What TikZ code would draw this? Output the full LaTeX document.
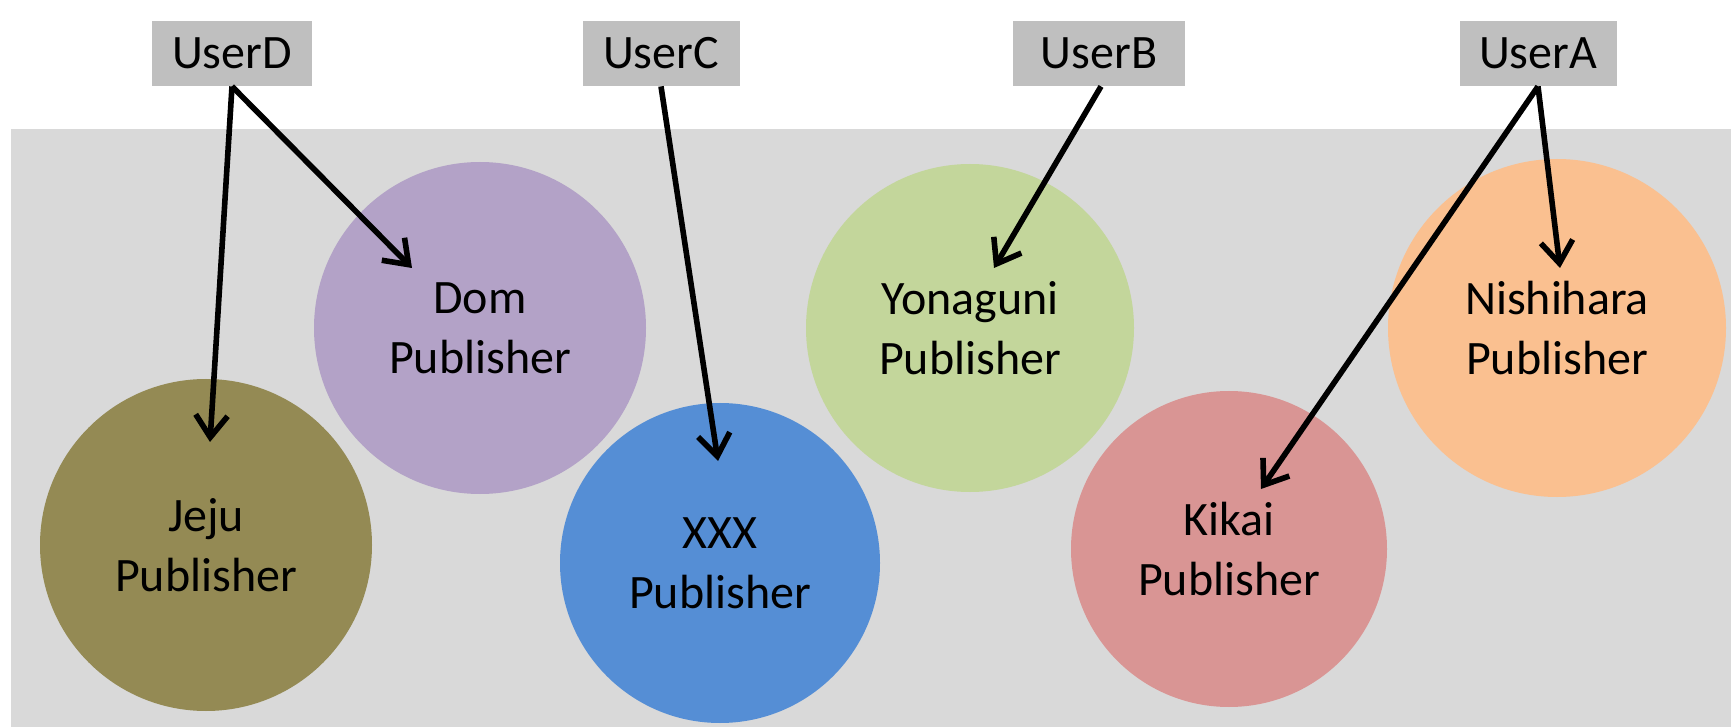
\documentclass[tikz,border=0pt]{standalone}
\usepackage{fontspec}
\setmainfont{Carlito}
\usepackage{xcolor}
\usetikzlibrary{arrows.meta}
\definecolor{bggray}{HTML}{D9D9D9}
\definecolor{usergray}{HTML}{BFBFBF}
\definecolor{domcol}{HTML}{B3A2C7}
\definecolor{jejucol}{HTML}{948A54}
\definecolor{xxxcol}{HTML}{558ED5}
\definecolor{yonacol}{HTML}{C3D69B}
\definecolor{kikaicol}{HTML}{D99594}
\definecolor{nishicol}{HTML}{FAC090}

\begin{document}
\begin{tikzpicture}[x=0.5pt,y=-0.5pt,
    every node/.style={font=\fontsize{24}{30}\selectfont, align=center},
    userbox/.style={fill=usergray, minimum height=32.5pt, minimum width=78.5pt, inner sep=0pt},
    pub/.style={circle, inner sep=0pt},
    userarrow/.style={draw=black, line width=2.8pt, -{Straight Barb[length=11pt,width=16pt]}}]
        \useasboundingbox (0,0) rectangle (1731,727);
        % Draw the gray background
        \fill[bggray] (11,129) rectangle (1731,727);
        % Draw the publishers
        \node[pub, fill=domcol, minimum size=166pt] (dom) at (480,328) {Dom\\Publisher};
        \node[pub, fill=jejucol, minimum size=166pt] (jeju) at (206,545) {Jeju\\Publisher};
        \node[pub, fill=xxxcol, minimum size=160pt] (xxx) at (720,563) {XXX\\Publisher};
        \node[pub, fill=yonacol, minimum size=164pt] (yona) at (970,328) {Yonaguni\\Publisher};
        \node[pub, fill=kikaicol, minimum size=158pt] (kikai) at (1229,549) {Kikai\\Publisher};
        \node[pub, fill=nishicol, minimum size=169pt] (nishi) at (1557,328) {Nishihara\\Publisher};
        % Draw the users
        \node[userbox, minimum width=80pt] (userd) at (232,53.5) {UserD};
        \node[userbox] (userc) at (661,53.5) {UserC};
        \node[userbox, minimum width=86pt] (userb) at (1099,53.5) {UserB};
        \node[userbox] (usera) at (1538,53.5) {UserA};
        % Arrow ends inside the publishers
        \coordinate (jejuin) at (210,442);
        \coordinate (domin) at (412,268);
        \coordinate (xxxin) at (718,461);
        \coordinate (yonain) at (994,268);
        \coordinate (nishiin) at (1560,268);
        \coordinate (kikaiin) at (1261,489);
        % Draw the arrows
        \draw[userarrow] (userd.south) -- (jejuin);
        \draw[userarrow] (userd.south) -- (domin);
        \draw[userarrow] (userc.south) -- (xxxin);
        \draw[userarrow] ([xshift=1pt]userb.south) -- (yonain);
        \draw[userarrow] (usera.south) -- (nishiin);
        \draw[userarrow] (usera.south) -- (kikaiin);
    \end{tikzpicture}
\end{document}
